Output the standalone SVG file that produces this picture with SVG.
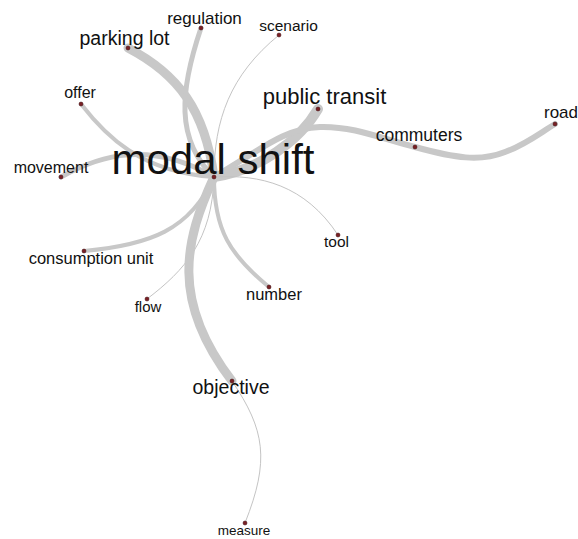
<svg xmlns="http://www.w3.org/2000/svg" width="578" height="539" viewBox="0 0 578 539">
<style>
.e{fill:none;stroke:#c8c8c8;stroke-linecap:round}
.t{fill:none;stroke:#c4c4c4;stroke-width:1}
.d{fill:#7a1f24;stroke:#3a0a0c;stroke-width:0.5}
text{font-family:"Liberation Sans",Arial,sans-serif;fill:#111;text-anchor:middle}
</style>
<rect width="578" height="539" fill="#fff"/>
<g id="connectors">
<path class="e" stroke-width="9" d="M128,48 C178,74 205,110 214,177"/>
<path class="e" stroke-width="5" d="M201,28 C180,90 175,140 214,177"/>
<path class="t" d="M279,35 C230,75 214,120 214,177"/>
<path class="e" stroke-width="4" d="M81,104 C105,135 140,172 214,177"/>
<path class="e" stroke-width="5" d="M61,177 C100,155 150,140 214,177"/>
<path class="e" stroke-width="10" d="M318,109 C300,140 260,170 214,177"/>
<path class="e" stroke-width="6" d="M214,177 C260,150 285,128 320,127 C355,126 385,140 415,147"/>
<path class="e" stroke-width="6" d="M415,147 C455,158 480,162 505,152 C525,145 540,133 555,124"/>
<path class="t" d="M214,177 C260,174 305,185 338,235"/>
<path class="e" stroke-width="4" d="M84,251 C150,245 190,230 214,177"/>
<path class="t" d="M147,299 C185,270 212,240 214,177"/>
<path class="e" stroke-width="4" d="M269,287 C230,255 214,230 214,177"/>
<path class="e" stroke-width="9" d="M214,177 C185,240 170,300 232,381"/>
<path class="t" d="M232,381 C265,430 270,460 245,523"/>
</g>
<g id="modal-shift"><text x="213" y="174" font-size="42">modal shift</text><circle class="d" cx="214" cy="177" r="2"/></g>
<g id="parking-lot"><text x="124.5" y="45" font-size="19.5">parking lot</text><circle class="d" cx="128" cy="48" r="2"/></g>
<g id="regulation"><text x="204.5" y="24" font-size="17">regulation</text><circle class="d" cx="201" cy="28" r="2"/></g>
<g id="scenario"><text x="288.5" y="31" font-size="15.5">scenario</text><circle class="d" cx="279" cy="35" r="2"/></g>
<g id="offer"><text x="80" y="98" font-size="16">offer</text><circle class="d" cx="81" cy="104" r="2"/></g>
<g id="movement"><text x="51" y="173" font-size="16">movement</text><circle class="d" cx="61" cy="177" r="2"/></g>
<g id="public-transit"><text x="324.5" y="104" font-size="22">public transit</text><circle class="d" cx="318" cy="109" r="2"/></g>
<g id="commuters"><text x="419" y="141" font-size="17.5">commuters</text><circle class="d" cx="415" cy="147" r="2"/></g>
<g id="road"><text x="561" y="118" font-size="17">road</text><circle class="d" cx="555" cy="124" r="2"/></g>
<g id="tool"><text x="336.5" y="247" font-size="15.5">tool</text><circle class="d" cx="338" cy="235" r="2"/></g>
<g id="consumption-unit"><text x="91" y="264" font-size="16.5">consumption unit</text><circle class="d" cx="84" cy="251" r="2"/></g>
<g id="flow"><text x="148" y="312" font-size="15">flow</text><circle class="d" cx="147" cy="299" r="2"/></g>
<g id="number"><text x="274" y="300" font-size="16.5">number</text><circle class="d" cx="269" cy="287" r="2"/></g>
<g id="objective"><text x="231" y="394" font-size="19.5">objective</text><circle class="d" cx="232" cy="381" r="2"/></g>
<g id="measure"><text x="244" y="535" font-size="13.5">measure</text><circle class="d" cx="245" cy="523" r="2"/></g>
</svg>
